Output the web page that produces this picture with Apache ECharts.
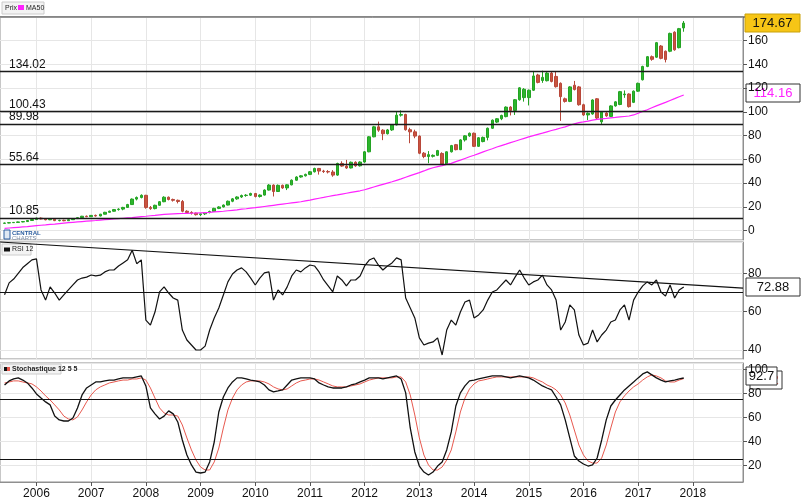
<!DOCTYPE html>
<html><head><meta charset="utf-8">
<script src="https://cdn.jsdelivr.net/npm/echarts@6/dist/echarts.min.js"></script>
<style>html,body{margin:0;padding:0;background:#fff}#c{width:806px;height:502px}</style>
</head><body><div id="c"></div>
<script>
// ---------- DATA (monthly, 2005-06 .. 2017-11) ----------
// [open, close, low, high]
const ohlc = [
 [6.2,6.5,6.0,6.8],[6.5,6.8,6.3,7.1],[6.8,7.0,6.6,7.3],[7.0,7.4,6.9,7.7],[7.4,7.7,7.1,8.0],[7.7,8.6,7.5,8.9],[8.6,9.4,8.4,9.7],
 [9.4,10.6,9.1,11.0],[10.6,9.9,9.5,11.2],[9.9,9.2,8.8,10.5],[9.2,9.7,8.9,10.2],[9.7,8.5,8.1,10.0],[8.5,8.8,7.9,9.2],[8.8,8.4,8.0,9.3],[8.4,9.3,8.2,9.5],[9.3,10.2,9.1,10.5],[10.2,11.0,10.0,11.3],[11.0,12.2,10.8,12.5],[12.2,11.8,11.4,12.8],
 [11.8,12.9,11.6,13.2],[12.9,12.4,11.9,13.6],[12.4,13.9,12.1,14.2],[13.9,15.5,13.7,15.9],[15.5,16.4,15.2,16.9],[16.4,17.8,16.1,18.3],[17.8,18.2,16.9,18.9],[18.2,19.6,17.2,20.1],[19.6,22.0,19.3,22.6],[22.0,26.6,21.8,27.2],[26.6,28.0,25.5,28.8],[28.0,29.8,27.2,30.6],
 [29.8,19.6,18.5,30.2],[19.6,18.6,17.6,20.8],[18.6,21.4,18.0,21.9],[21.4,24.4,21.0,25.0],[24.4,28.2,24.0,29.0],[28.2,26.3,25.5,28.8],[26.3,25.6,24.5,27.0],[25.6,24.6,23.0,26.2],[24.6,16.4,15.5,25.8],[16.4,15.4,14.2,17.2],[15.4,14.8,13.6,16.4],[14.8,13.5,12.8,15.3],
 [13.5,14.2,12.4,14.8],[14.2,15.3,13.2,15.7],[15.3,16.2,14.6,16.9],[16.2,18.8,15.9,19.3],[18.8,20.0,18.2,20.6],[20.0,21.6,19.6,22.1],[21.6,24.8,21.3,25.4],[24.8,26.8,24.0,27.5],[26.8,28.4,26.0,29.0],[28.4,29.6,27.6,30.4],[29.6,29.9,28.6,30.8],[29.9,31.3,29.2,32.0],
 [31.3,28.8,28.0,31.8],[28.8,30.0,27.9,30.6],[30.0,34.2,29.6,34.8],[34.2,38.4,33.8,39.2],[38.4,33.0,28.8,39.0],[33.0,38.2,32.6,38.9],[38.2,36.0,35.2,38.8],[36.0,38.6,34.2,39.0],[38.6,42.5,38.2,43.2],[42.5,45.2,42.0,45.8],[45.2,46.2,44.6,46.8],[46.2,47.4,45.6,48.0],
 [47.4,49.6,46.8,50.2],[49.6,52.4,49.0,53.0],[52.4,50.2,47.2,52.8],[50.2,49.8,48.6,51.2],[49.8,49.4,48.2,51.0],[49.4,46.8,45.4,51.0],[46.8,56.6,46.2,57.2],[56.6,54.4,53.8,58.4],[54.4,52.8,52.0,59.6],[52.8,57.6,52.4,58.2],[57.6,54.6,53.8,58.4],[54.6,57.8,54.0,58.4],
 [57.8,66.4,57.2,67.0],[66.4,79.0,66.0,79.6],[79.0,87.4,78.6,88.2],[87.4,84.6,83.2,91.8],[84.6,81.6,76.2,85.4],[81.6,84.8,81.0,85.6],[84.8,89.0,84.0,89.6],[89.0,97.2,88.6,100.0],[97.2,97.8,96.0,101.2],[97.8,85.0,84.2,98.4],[85.0,83.2,73.6,86.6],[83.2,79.6,77.8,85.0],
 [79.6,65.2,64.4,80.2],[65.2,62.4,61.0,66.2],[62.4,64.0,56.8,67.0],[62.6,63.4,61.6,64.2],[63.4,67.4,62.8,68.0],[65.0,56.2,55.6,66.0],[56.2,66.4,55.8,66.8],[66.4,71.6,65.8,72.2],[72.4,68.2,67.6,73.0],[68.2,76.4,67.8,77.0],[76.4,79.8,75.0,80.4],[79.8,82.0,79.0,82.6],
 [82.0,71.0,70.4,82.6],[71.0,78.2,70.6,78.8],[75.0,78.5,74.4,79.2],[78.5,86.2,76.0,86.8],[86.2,93.0,85.6,93.6],[91.4,94.2,90.6,94.8],[94.2,97.0,93.0,97.6],[96.0,104.0,95.4,104.6],[104.0,101.2,97.0,104.8],[101.2,110.2,97.4,110.8],[110.2,120.2,109.4,120.8],[112.0,119.0,108.6,120.0],
 [112.0,118.2,105.4,118.8],[118.2,130.2,117.6,134.4],[131.0,124.8,124.0,132.0],[126.4,129.0,124.4,134.6],[126.2,132.6,125.6,133.4],[132.6,125.6,124.8,133.6],[129.8,121.2,120.4,134.0],[124.0,112.8,92.4,124.8],[111.0,108.8,107.8,112.0],[108.8,121.0,108.2,121.6],[122.4,118.8,118.0,126.0],[121.0,106.0,105.2,121.8],
 [106.0,97.4,96.6,106.8],[97.4,98.8,93.0,99.6],[98.2,110.0,97.6,110.6],[111.0,94.8,94.0,111.6],[91.6,99.8,89.8,100.4],[99.0,96.6,95.8,99.8],[96.2,105.0,95.6,105.6],[105.0,108.4,104.4,109.0],[106.2,117.0,105.6,117.6],[114.4,115.0,111.8,118.0],[115.0,104.4,103.6,115.6],[108.0,117.4,107.4,118.0],
 [117.4,124.0,116.8,124.6],[127.0,138.2,126.4,138.8],[138.2,146.4,137.6,147.0],[146.4,144.2,143.0,147.4],[146.0,158.2,145.4,158.8],[155.4,145.0,144.2,156.2],[151.0,144.0,141.6,151.6],[151.0,166.0,150.2,166.6],[167.0,152.2,151.4,167.8],[154.0,170.0,153.4,170.6],[170.6,174.67,167.4,176.4]
];
const ma50 = [
 2.0,2.3,2.6,2.9,3.2,3.5,3.9,
 4.3,4.6,4.9,5.3,5.6,6.0,6.4,6.8,7.1,7.4,7.7,8.0,
 8.3,8.6,9.0,9.3,9.6,9.9,10.2,10.5,10.8,11.1,11.5,11.9,
 12.2,12.6,12.9,13.3,13.7,14.0,14.2,14.4,14.5,14.6,14.7,14.9,
 15.1,15.3,15.5,15.8,16.1,16.4,16.8,17.2,17.6,18.1,18.5,19.0,
 19.4,19.9,20.4,20.9,21.4,21.9,22.4,22.9,23.4,23.9,24.4,25.1,
 25.8,26.6,27.3,28.0,28.8,29.5,30.1,30.8,31.5,32.2,32.9,33.6,
 34.5,35.6,36.8,37.9,39.0,40.1,41.2,42.4,43.6,45.0,46.3,47.6,
 48.9,50.3,51.8,53.0,53.9,54.8,55.8,56.7,58.1,59.4,60.8,62.2,
 63.5,64.9,66.3,67.7,69.0,70.4,71.6,72.8,74.1,75.3,76.5,77.7,
 78.9,80.0,81.1,82.1,83.2,84.3,85.3,86.4,87.4,88.7,89.9,91.0,
 91.5,92.2,93.0,93.7,94.1,94.5,95.0,95.3,95.7,96.1,96.5,97.4,
 98.8,100.4,101.8,103.4,105.0,106.5,108.0,109.6,111.1,112.7,114.16
];
const rsi12 = [
 68.8,75,77,80,83,85,87,
 87.5,71.3,66,72.9,69.7,66,68.7,71.3,73.9,76.5,77.5,78,
 79.1,78.6,79,80.7,81.7,81.7,83.8,85.4,87,92,85,87,
 55.6,53,59.8,70.3,72.9,69.7,67.1,66,50.4,45.2,42.6,40,
 40,42,50.4,56.7,61.9,68.7,75.5,79.6,81.7,82.8,80.7,77.5,
 73.9,77.5,80.2,80.7,66,71.3,68.7,72.9,78.6,81.7,80.7,82.8,
 84.3,83.8,80.7,76.5,73.4,70.3,78.6,76.5,73.4,76.5,76.5,78.6,
 83.8,86.9,88,84.3,81.7,83.8,85.4,88,87,67.1,61.9,56.7,
 46.3,42.6,43.6,44.2,46.3,37.4,50.4,55.6,53,59.8,65,66,
 56.7,58.3,60.9,66,70.2,71.3,73.9,76.5,73.9,78,81.7,77.5,
 73.9,75.5,76.5,79,73.9,71.3,66,50.4,54.6,63.5,60.9,47.8,
 42.6,43.6,50.4,44.2,47.8,50.4,54.6,55.6,60.9,63.5,55.6,66,
 70.2,73.4,75.5,73.9,76.5,70.2,68.1,73.9,67.1,71.3,72.88
];
const stochK = [
 86.9,90.3,91.9,92.8,91,88.6,84.4,
 79.4,76,72.8,70.3,61,57.8,56.9,56.9,59.4,67.8,78.6,84.4,
 86.9,89.4,89.4,90.3,91,91,91.9,92.8,92.8,92.8,93.6,94.4,
 86.1,67.8,62.8,58.6,61,65.3,62.8,56.1,41.1,28.6,20.3,14.4,
 13.6,14.4,22.8,39.4,64.4,76.9,84.4,89.4,92.8,92.8,91.9,91,
 90.3,89.4,86.9,82.8,81.1,81.9,82.8,86.9,91,91.9,92.8,92.8,
 92.8,91.9,88.6,86.9,85.3,84.4,84.4,84.4,85.3,86.9,87.8,89.4,
 91,92.8,92.8,92.8,91.9,92.8,93.6,94.4,91.9,80.3,51.1,31.1,
 19.4,14.4,11.9,14.4,19.4,22.8,32.8,47.8,69.4,80.3,86.1,90.3,
 91,91.9,92.8,93.6,94.4,94.4,94.4,93.6,92.8,93.6,94.4,93.6,
 92.8,91,88.6,86.1,84.4,82.8,76.9,70.3,57.8,42.8,27.8,23.6,
 21.1,19.4,20.3,26.1,41.1,57.8,69.4,74.4,78.6,82.8,86.1,89.4,
 92.8,96.1,97.8,95.3,92.8,91,89.4,90.3,91,91.9,92.7
];
const stochD = [
 88.6,89.4,90.3,90.3,89.4,88.6,87.8,
 85.3,81.9,77.8,74.4,70.3,66.1,61,58.6,57.8,60.3,66.1,72.8,
 78.6,82.8,85.3,86.9,88.6,89.4,90.3,91,91,91.9,91.9,92.8,
 91,84.4,76,67.8,63.6,61.9,61.9,61,53.6,42.8,32.8,24.4,
 18.6,16.1,16.1,22.8,34.4,51.1,66.1,76,82.8,86.9,89.4,90.3,
 90.3,90.3,89.4,87.8,85.3,83.6,82.8,83.6,86.1,88.6,90.3,91,
 91.9,91.9,91,89.4,87.8,86.1,85.3,85.3,85.3,86.1,86.9,87.8,
 89.4,91,91.9,92.8,92.8,92.8,92.8,93.6,93.6,89.4,78.6,61.9,
 42.8,28.6,20.3,16.1,16.1,18.6,24.4,32.8,47.8,64.4,76,83.6,
 87.8,90.3,91,91.9,92.8,93.6,93.6,93.6,93.6,93.6,93.6,93.6,
 93.6,92.8,91,89.4,86.9,85.3,82.8,78.6,71.9,61.9,49.4,36.9,
 28.6,23.6,21.9,21.9,26.1,36.9,51.1,64.4,72.8,77.8,81.9,85.3,
 87.8,91,93.6,95.3,94.4,92.8,90.3,89.4,89.4,91,92.2
];
const priceLevels = [134.02, 100.43, 89.98, 55.64, 10.85];
const rsiLevels = [70];
const rsiTrend = [96.3, 72.3];
const stochLevels = [75, 25];
const lastPrice = 174.67, lastMA = 114.16, lastRSI = 72.88, lastK = 92.7, lastD = 92.2;

// ---------- categories: 2005-05 .. 2018-12 ----------
const cats = [];
for (let y = 2005, m = 5; y < 2019; ) { cats.push(y + '-' + String(m).padStart(2, '0')); m++; if (m > 12) { m = 1; y++; } }
const lead = 1; // 2005-05 empty
const pad = arr => { const out = []; for (let i = 0; i < cats.length; i++) { const j = i - lead; out.push(j >= 0 && j < arr.length ? arr[j] : '-'); } return out; };

const isJan = (i, v) => v.slice(5) === '01';
const GRID = '#e6e6e6', BORDER = '#8f8f8f';
const FONT = '"Liberation Sans Narrow","Liberation Sans",Arial,sans-serif';

function xAx(gi, showLabels) {
  return {
    type: 'category', gridIndex: gi, data: cats, boundaryGap: false,
    axisLine: { show: showLabels, lineStyle: { color: BORDER } },
    axisTick: { show: showLabels, interval: isJan, length: 4, lineStyle: { color: '#555' } },
    axisLabel: { show: showLabels, interval: isJan, formatter: v => v.slice(0, 4), color: '#111', fontSize: 12, fontFamily: FONT, margin: 6 },
    splitLine: { show: true, interval: isJan, lineStyle: { color: GRID } }
  };
}
function yAx(gi, min, max, split) {
  return {
    type: 'value', gridIndex: gi, position: 'right', min: min, max: max, splitNumber: split, scale: true,
    axisLine: { show: true, lineStyle: { color: BORDER } },
    axisTick: { show: true, length: 4, lineStyle: { color: '#555' } },
    axisLabel: { color: '#111', fontSize: 12, fontFamily: FONT, margin: 5, showMinLabel: false, showMaxLabel: false },
    splitLine: { show: true, lineStyle: { color: GRID } }
  };
}
const hLine = (vals) => vals.map(v => ({ yAxis: v }));
const mlBase = { symbol: ['none', 'none'], silent: true, animation: false };

const option = {
  animation: false,
  backgroundColor: '#fff',
  grid: [
    { left: 0, width: 743, top: 17, height: 223, show: true, borderColor: BORDER, borderWidth: 1, backgroundColor: '#fff' },
    { left: 0, width: 743, top: 242, height: 117, show: true, borderColor: BORDER, borderWidth: 1, backgroundColor: '#fff' },
    { left: 0, width: 743, top: 363, height: 119, show: true, borderColor: BORDER, borderWidth: 1, backgroundColor: '#fff' }
  ],
  xAxis: [xAx(0, false), xAx(1, false), xAx(2, true)],
  yAxis: [yAx(0, -7.8, 179.8, 9), yAx(1, 35.3, 96.3, 3), yAx(2, 6.1, 105.2, 5)],
  series: [
    {
      name: 'Prix', type: 'candlestick', xAxisIndex: 0, yAxisIndex: 0, barWidth: 3,
      data: pad(ohlc),
      itemStyle: { color: '#2db52d', color0: '#c9553f', borderColor: '#23a323', borderColor0: '#b8473a', borderWidth: 1 },
      markLine: Object.assign({}, mlBase, {
        data: hLine(priceLevels),
        lineStyle: { color: '#1a1a1a', width: 1.3, type: 'solid' },
        label: { show: true, position: 'insideStartTop', distance: [9, 1], color: '#111', fontSize: 12, fontFamily: 'Liberation Sans, Arial, sans-serif', formatter: p => p.value.toFixed(2) }
      })
    },
    {
      name: 'MA50', type: 'line', xAxisIndex: 0, yAxisIndex: 0, data: pad(ma50), showSymbol: false,
      lineStyle: { color: '#ff22ff', width: 1.2 }, itemStyle: { color: '#ff22ff' }
    },
    {
      name: 'RSI 12', type: 'line', xAxisIndex: 1, yAxisIndex: 1, data: pad(rsi12), showSymbol: false,
      lineStyle: { color: '#111', width: 1.2 },
      markLine: Object.assign({}, mlBase, {
        lineStyle: { color: '#111', width: 1.2, type: 'solid' }, label: { show: false },
        data: hLine(rsiLevels).concat([[{ coord: [cats[0], rsiTrend[0]] }, { coord: [cats[cats.length - 1], rsiTrend[1]] }]])
      })
    },
    {
      name: '%K', type: 'line', xAxisIndex: 2, yAxisIndex: 2, data: pad(stochK), showSymbol: false,
      lineStyle: { color: '#111', width: 1.3 }, z: 3,
      markLine: Object.assign({}, mlBase, { lineStyle: { color: '#111', width: 1.2, type: 'solid' }, label: { show: false }, data: hLine(stochLevels) })
    },
    {
      name: '%D', type: 'line', xAxisIndex: 2, yAxisIndex: 2, data: pad(stochD), showSymbol: false,
      lineStyle: { color: '#e8594f', width: 1 }, z: 2
    }
  ]
};

const chart = echarts.init(document.getElementById('c'), null, { renderer: 'canvas' });
chart.setOption(option);

// ---------- value boxes & legends ----------
const py = (ai, v) => chart.convertToPixel({ yAxisIndex: ai }, v);
function valBox(x, w, y, text, fill, stroke, color) {
  return { type: 'group', z: 100, children: [
    { type: 'rect', shape: { x: x, y: Math.round(y) - 9, width: w, height: 18 }, style: { fill: fill, stroke: stroke, lineWidth: 1 } },
    { type: 'text', x: x + w / 2, y: Math.round(y), style: { text: text, fill: color, font: '13px "Liberation Sans", Arial, sans-serif', align: 'center', verticalAlign: 'middle' } }
  ]};
}
const small = '7px "Liberation Sans", Arial, sans-serif';
const graphic = [
  // top border of the price panel (dark)
  { type: 'line', z: 50, shape: { x1: 0, y1: 17, x2: 745, y2: 17 }, style: { stroke: '#444', lineWidth: 1 } },
  valBox(745, 55, py(0, lastPrice), lastPrice.toFixed(2), '#f6c516', '#c9a10a', '#111'),
  valBox(746, 54, py(0, lastMA) - 2, lastMA.toFixed(2), '#fff', '#333', '#ff22ff'),
  valBox(746, 54, py(1, lastRSI), lastRSI.toFixed(2), '#fff', '#333', '#111'),
  valBox(750, 32, py(2, lastD) + 1, String(lastD), '#fff', '#333', '#e8594f'),
  valBox(746, 31, py(2, lastK) - 2, String(lastK), '#fff', '#333', '#111'),
  // legends
  { type: 'group', z: 100, children: [
    { type: 'rect', shape: { x: 2, y: 2, width: 42, height: 12 }, style: { fill: '#f3f3f3', stroke: '#cccccc' } },
    { type: 'text', x: 5, y: 8, style: { text: 'Prix', font: small, fill: '#222', verticalAlign: 'middle' } },
    { type: 'rect', shape: { x: 18, y: 5, width: 6, height: 5 }, style: { fill: '#ff22ff' } },
    { type: 'text', x: 26, y: 8, style: { text: 'MA50', font: small, fill: '#222', verticalAlign: 'middle' } }
  ]},
  { type: 'group', z: 100, children: [
    { type: 'rect', shape: { x: 2, y: 244, width: 29, height: 11 }, style: { fill: '#f3f3f3', stroke: '#cccccc' } },
    { type: 'rect', shape: { x: 4, y: 247.5, width: 6, height: 4 }, style: { fill: '#111' } },
    { type: 'text', x: 12, y: 249.5, style: { text: 'RSI 12', font: small, fill: '#222', verticalAlign: 'middle' } }
  ]},
  { type: 'group', z: 100, children: [
    { type: 'rect', shape: { x: 2, y: 364, width: 59, height: 10 }, style: { fill: '#f3f3f3', stroke: '#cccccc' } },
    { type: 'rect', shape: { x: 4, y: 367, width: 3, height: 4 }, style: { fill: '#111' } },
    { type: 'rect', shape: { x: 7, y: 367, width: 3, height: 4 }, style: { fill: '#e8594f' } },
    { type: 'text', x: 12, y: 369, style: { text: 'Stochastique 12 5 5', font: 'bold ' + small, fill: '#222', verticalAlign: 'middle' } }
  ]},
  // logo
  { type: 'group', z: 100, children: [
    { type: 'rect', shape: { x: 4, y: 230, width: 6, height: 9 }, style: { fill: '#dfe8f3', stroke: '#2a5d9f', lineWidth: 1 } },
    { type: 'text', x: 12, y: 230, style: { text: 'CENTRAL', font: 'bold 6px "Liberation Sans", Arial, sans-serif', fill: '#2a5d9f' } },
    { type: 'text', x: 12, y: 235.5, style: { text: 'CHARTS', font: '6px "Liberation Sans", Arial, sans-serif', fill: '#7d8ea6' } }
  ]}
];
chart.setOption({ graphic: graphic });
</script>
</body></html>
